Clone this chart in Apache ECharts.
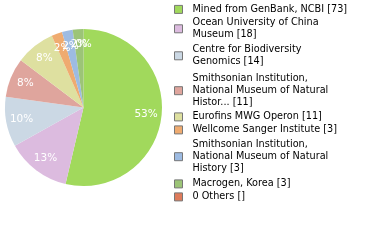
<!DOCTYPE html>
<html><head><meta charset="utf-8">
<script src="https://cdn.jsdelivr.net/npm/echarts@6/dist/echarts.min.js"></script>
<style>html,body{margin:0;padding:0;background:#fff}#c{width:380px;height:240px}</style>
</head><body><div id="c"></div>
<script>
var categories = [
  "Mined from GenBank, NCBI",
  "Ocean University of China\nMuseum",
  "Centre for Biodiversity\nGenomics",
  "Smithsonian Institution,\nNational Museum of Natural\nHistor...",
  "Eurofins MWG Operon",
  "Wellcome Sanger Institute",
  "Smithsonian Institution,\nNational Museum of Natural\nHistory",
  "Macrogen, Korea",
  "0 Others"
];
var values = [73, 18, 14, 11, 11, 3, 3, 3, 0];
var colors = ["#a1d95c", "#dcbbdf", "#cbd8e4", "#dfa59d", "#dee0a0", "#efab70", "#9dbbe2", "#9cc477", "#de7b5b"];
var legendTops = [3.5, 17, 44, 73, 111, 124, 139, 178, 191];

var data = categories.map(function (c, i) {
  return { name: c, value: values[i], itemStyle: { color: colors[i] } };
});
var legends = categories.map(function (c, i) {
  return {
    data: [c], orient: 'vertical', left: 174, top: legendTops[i], padding: 0,
    itemWidth: 8, itemHeight: 8, icon: 'rect', selectedMode: false,
    itemStyle: { borderColor: '#777', borderWidth: 1 },
    textStyle: { fontFamily: 'DejaVu Sans', fontSize: 9.7, color: '#000', lineHeight: 11.8, padding: [0, 0, 0, 5] },
    formatter: function (n) {
      var idx = categories.indexOf(n);
      return n + ' [' + (values[idx] > 0 ? values[idx] : '') + ']';
    }
  };
});
var chart = echarts.init(document.getElementById('c'), null, { renderer: 'canvas' });
chart.setOption({
  animation: false,
  legend: legends,
  series: [
    { type: 'pie', center: [83.5, 107.5], radius: [0, 78.5], startAngle: 90, clockwise: true,
      label: { show: false }, labelLine: { show: false }, data: data, silent: true,
      itemStyle: { borderWidth: 0 } },
    { type: 'pie', center: [83.5, 107.5], radius: [41, 79], startAngle: 90, clockwise: true,
      silent: true, legendHoverLink: false, avoidLabelOverlap: false, stillShowZeroSum: true,
      labelLayout: { hideOverlap: false },
      itemStyle: { color: 'rgba(0,0,0,0)', borderWidth: 0 },
      label: { show: true, position: 'inside', color: '#fff', fontFamily: 'DejaVu Sans', fontSize: 10.5,
        formatter: function (p) { return Math.floor(p.percent) + '%'; } },
      labelLine: { show: false },
      data: categories.map(function (c, i) { return { name: c, value: values[i] }; })
    }
  ]
});
</script></body></html>
